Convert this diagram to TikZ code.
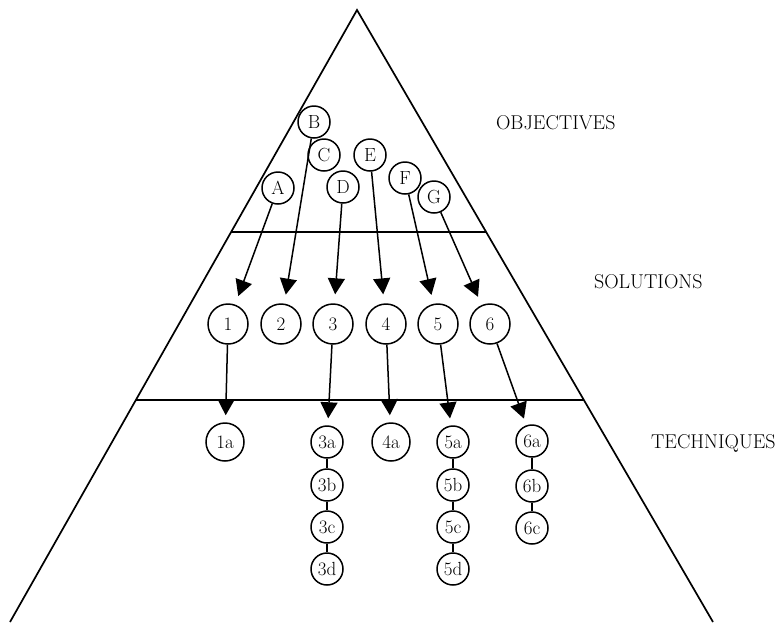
\documentclass[tikz,border=0pt]{standalone}
\usepackage{tikz}
\usetikzlibrary{arrows.meta,calc}

\begin{document}
\begin{tikzpicture}[x=1pt, y=-1pt, line width=1.5pt,
		every node/.style={font=\fontsize{19}{22}\selectfont},
		ring/.style={shape=circle, draw, inner sep=0.5pt, minimum size=#1},
		ring/.default=32pt,
		link/.style={draw, -{Triangle[length=16pt,width=17pt]}, shorten >=7pt},
		layer/.style={anchor=west, font=\fontsize{20}{22}\selectfont}]
	\useasboundingbox (0,0) rectangle (778,622);
	% pyramid and its three layers
	\coordinate (top) at (357,10);
	\coordinate (left) at (10,622);
	\coordinate (right) at (713,622);
	\draw[line width=1.7pt] (left) -- (top) -- (right);
	\draw[line width=1.7pt] ($(top)!0.363!(left)$) -- ($(top)!0.363!(right)$);
	\draw[line width=1.7pt] ($(top)!0.637!(left)$) -- ($(top)!0.637!(right)$);
	\node[layer] (objectives) at (492,123) {OBJECTIVES};
	\node[layer] (solutions) at (590,282) {SOLUTIONS};
	\node[layer] (techniques) at (647,443) {TECHNIQUES};
	% objectives
	\node[ring] (A) at (278,188) {A};
	\node[ring] (B) at (314,122) {B};
	\node[ring] (C) at (324,155) {C};
	\node[ring] (D) at (343,187) {D};
	\node[ring] (E) at (370,155) {E};
	\node[ring] (F) at (405,178) {F};
	\node[ring] (G) at (434,197) {G};
	% solutions
	\foreach \n/\x in {1/228,2/281,3/333,4/386,5/438,6/490}
		\node[ring=40pt] (s\n) at (\x,324) {\n};
	% techniques
	\node[ring=38pt] (t1a) at (225,442) {1a};
	\node[ring=38pt] (t4a) at (391,442) {4a};
	\foreach \l/\y in {a/442,b/485,c/527,d/569} {
		\node[ring] (t3\l) at (327,\y) {3\l};
		\node[ring] (t5\l) at (453,\y) {5\l};
	}
	\foreach \l/\y in {a/441,b/486,c/528}
		\node[ring] (t6\l) at (532,\y) {6\l};
	% connectors
	\foreach \a/\b in {A/1,B/2,D/3,E/4,F/5,G/6}
		\draw[link, shorten >=9pt] (\a) -- (s\b);
	\foreach \b in {1,3,4,5,6}
		\draw[link] (s\b) -- (t\b a);
	\draw[line width=1.2pt] (t3a) -- (t3b) -- (t3c) -- (t3d);
	\draw[line width=1.2pt] (t5a) -- (t5b) -- (t5c) -- (t5d);
	\draw[line width=1.2pt] (t6a) -- (t6b) -- (t6c);
\end{tikzpicture}
\end{document}
